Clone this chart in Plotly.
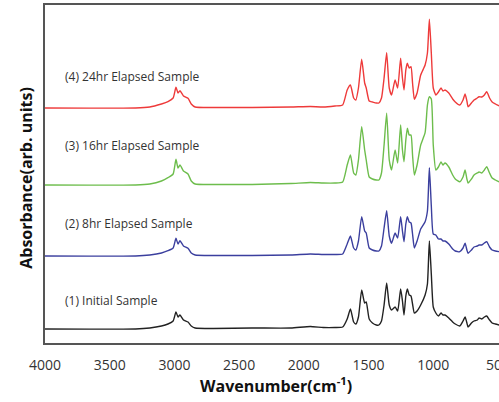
import plotly.graph_objects as go

# Wavenumber grid (cm^-1) of read-off key points
wavenumber = [4000, 3300, 3190, 3100, 3050, 3010, 2988, 2972, 2957, 2930, 2895, 2870, 2840,
              2700, 2400, 2100, 1950, 1850, 1760, 1700, 1665, 1640, 1615, 1598, 1578, 1553,
              1530, 1518, 1495, 1470, 1440, 1420, 1400, 1380, 1360, 1340, 1322, 1295, 1275,
              1252, 1238, 1226, 1212, 1200, 1186, 1172, 1160, 1146, 1125, 1097, 1063, 1045,
              1030, 1015, 1000, 980, 960, 940, 925, 909, 880, 850, 830, 795, 770, 754, 740,
              731, 705, 685, 660, 646, 625, 605, 587, 565, 545, 520, 490]

# Absorbance (arb. units), relative to each sample's own baseline
initial = [0, 0, 0.01, 0.03, 0.05, 0.08, 0.17, 0.12, 0.14, 0.09, 0.07, 0.03, 0.01,
           0.005, 0.01, 0.01, 0.025, 0.015, 0.015, 0.02, 0.10, 0.20, 0.07, 0.05, 0.12, 0.39,
           0.26, 0.27, 0.10, 0.06, 0.04, 0.04, 0.08, 0.24, 0.46, 0.24, 0.19, 0.22, 0.18,
           0.40, 0.28, 0.14, 0.33, 0.40, 0.34, 0.33, 0.25, 0.16, 0.18, 0.24, 0.34, 0.45,
           0.88, 0.55, 0.22, 0.16, 0.13, 0.16, 0.14, 0.14, 0.11, 0.07, 0.05, 0.03, 0.08, 0.12, 0.06,
           0.02, 0.06, 0.08, 0.09, 0.11, 0.10, 0.12, 0.13, 0.09, 0.06, 0.05, 0.04]

hr8 = [0, 0, 0.01, 0.03, 0.053, 0.08, 0.177, 0.12, 0.153, 0.10, 0.077, 0.03, 0.01,
       0.005, 0.005, 0.01, 0.02, 0.015, 0.015, 0.02, 0.12, 0.20, 0.08, 0.06, 0.15, 0.393,
       0.25, 0.23, 0.08, 0.06, 0.05, 0.05, 0.10, 0.28, 0.453, 0.20, 0.127, 0.23, 0.18,
       0.393, 0.25, 0.143, 0.32, 0.393, 0.34, 0.33, 0.22, 0.08, 0.15, 0.27, 0.343, 0.45,
       0.883, 0.50, 0.22, 0.21, 0.17, 0.17, 0.15, 0.15, 0.12, 0.07, 0.05, 0.043, 0.08, 0.127, 0.06,
       0.027, 0.06, 0.09, 0.10, 0.11, 0.11, 0.13, 0.143, 0.09, 0.06, 0.05, 0.043]

hr16 = [0, 0, 0.01, 0.04, 0.073, 0.11, 0.257, 0.17, 0.20, 0.14, 0.11, 0.04, 0.01,
        0.005, 0.005, 0.015, 0.025, 0.02, 0.02, 0.03, 0.20, 0.30, 0.12, 0.10, 0.25, 0.583,
        0.35, 0.25, 0.08, 0.06, 0.05, 0.05, 0.12, 0.40, 0.717, 0.25, 0.15, 0.35, 0.22,
        0.60, 0.35, 0.233, 0.45, 0.567, 0.50, 0.50, 0.30, 0.10, 0.20, 0.40, 0.523, 0.80,
        0.883, 0.86, 0.40, 0.15, 0.18, 0.23, 0.20, 0.22, 0.18, 0.10, 0.06, 0.033, 0.08, 0.15, 0.06,
        0.02, 0.06, 0.10, 0.12, 0.13, 0.12, 0.15, 0.183, 0.12, 0.07, 0.05, 0.03]

hr24 = [0, 0, 0.01, 0.04, 0.063, 0.10, 0.207, 0.15, 0.173, 0.12, 0.097, 0.04, 0.01,
        0.005, 0.005, 0.01, 0.015, 0.01, 0.02, 0.03, 0.18, 0.23, 0.10, 0.08, 0.20, 0.487,
        0.25, 0.20, 0.07, 0.06, 0.05, 0.05, 0.10, 0.30, 0.553, 0.20, 0.13, 0.28, 0.20,
        0.497, 0.30, 0.18, 0.38, 0.447, 0.40, 0.413, 0.25, 0.087, 0.15, 0.33, 0.43, 0.55,
        0.887, 0.55, 0.20, 0.13, 0.16, 0.20, 0.17, 0.18, 0.15, 0.09, 0.06, 0.03, 0.08, 0.14, 0.07,
        0.013, 0.05, 0.08, 0.10, 0.113, 0.11, 0.13, 0.163, 0.10, 0.06, 0.04, 0.02]

labels = ["(1) Initial Sample", "(2) 8hr Elapsed Sample",
          "(3) 16hr Elapsed Sample", "(4) 24hr Elapsed Sample"]
series = [initial, hr8, hr16, hr24]
offsets = [0.14, 0.87, 1.58, 2.35]
label_y = [0.423, 1.197, 1.977, 2.67]
colors = ["#222222", "#3b3f9e", "#6dbd4c", "#ee3a3a"]
tick_values = [4000, 3500, 3000, 2500, 2000, 1500, 1000, 500]

FONT = "Open Sans"
fig = go.Figure()
for vals, off, col in zip(series, offsets, colors):
    fig.add_trace(go.Scatter(
        x=wavenumber, y=[v + off for v in vals], mode="lines",
        line=dict(color=col, width=1.4, shape="spline", smoothing=0.5),
        showlegend=False, hoverinfo="skip"))

annots = []
for lab, ly in zip(labels, label_y):
    annots.append(dict(x=0.04, xref="paper", y=ly, yref="y", text=lab,
                       showarrow=False, xanchor="left", yanchor="middle",
                       font=dict(family=FONT, size=12, color="#333333")))
annots.append(dict(x=0.508, xref="paper", y=-0.124, yref="paper", xanchor="center",
                   yanchor="middle", text="<b>Wavenumber(cm<sup>-1</sup>)</b>", showarrow=False,
                   font=dict(family=FONT, size=16, color="#111111")))
annots.append(dict(x=-0.041, xref="paper", y=0.49, yref="paper", xanchor="center",
                   yanchor="middle", text="<b>Absorbance(arb. units)</b>", textangle=-90,
                   showarrow=False, font=dict(family=FONT, size=16, color="#111111")))

fig.update_layout(
    width=499, height=402,
    margin=dict(l=45, r=0, t=5, b=59),
    paper_bgcolor="white", plot_bgcolor="white",
    font=dict(family=FONT, color="#333333"),
    annotations=annots,
)
fig.update_xaxes(range=[4000, 492], tickvals=tick_values, automargin=False,
                 showgrid=False, zeroline=False, showline=True, linecolor="#555555",
                 linewidth=1.5, mirror=True, ticks="", ticklabelstandoff=8,
                 ticklabeloverflow="allow",
                 tickfont=dict(family=FONT, size=14, color="#333333"))
fig.update_yaxes(range=[0, 3.38], showgrid=False, zeroline=False, showline=True,
                 automargin=False,
                 linecolor="#555555", linewidth=1.5, showticklabels=False, ticks="")

fig.write_html("out.html", config={"displayModeBar": False},
               post_script="document.body.style.margin='0';document.body.style.overflow='hidden';")
